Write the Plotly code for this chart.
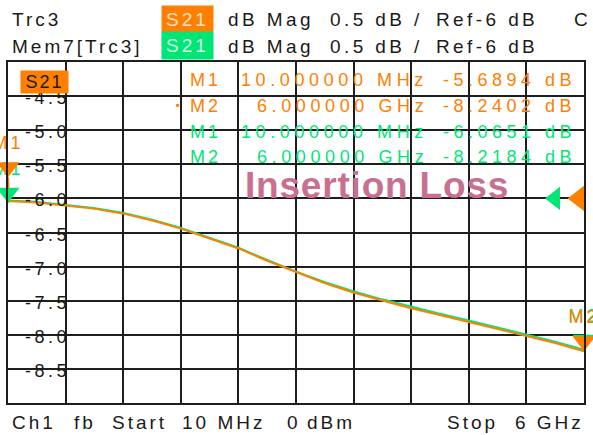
import plotly.graph_objects as go

# ---------------- data ----------------
freq_mhz = [10, 20, 300, 600, 900, 1200, 1500, 1800, 2100, 2400, 2700, 3000,
            3300, 3600, 3900, 4200, 4500, 4800, 5100, 5400, 5700, 6000]
trc3_db = [-5.6894, -6.04, -6.06, -6.10, -6.15, -6.22, -6.32, -6.44, -6.58, -6.73,
           -6.91, -7.08, -7.24, -7.38, -7.50, -7.61, -7.71, -7.81, -7.91, -8.01,
           -8.12, -8.2402]
mem7_db = [-6.0651, -6.03, -6.05, -6.09, -6.14, -6.21, -6.31, -6.43, -6.57, -6.72,
           -6.90, -7.07, -7.225, -7.36, -7.48, -7.59, -7.69, -7.79, -7.89, -7.99,
           -8.10, -8.2184]

marker_names = ["M1", "M2"]
marker_freq = [10, 6000]
trc3_marker_db = [-5.6894, -8.2402]
mem7_marker_db = [-6.0651, -8.2184]
marker_freq_text = ["10.000000 MHz", "6.000000 GHz"]
trc3_marker_text = ["-5.6894 dB", "-8.2402 dB"]
mem7_marker_text = ["-6.0651 dB", "-8.2184 dB"]

ref_level_db = -6.0
ytick_vals = [-4.5, -5.0, -5.5, -6.0, -6.5, -7.0, -7.5, -8.0, -8.5]
ytick_text = ["-4.5", "-5.0", "-5.5", "-6.0", "-6.5", "-7.0", "-7.5", "-8.0", "-8.5"]

trace_names = ["Trc3", "Mem7[Trc3]"]
param = "S21"
fmt_text = "dB Mag"
scale_text = "0.5 dB /"
ref_text = "Ref-6 dB"
footer_words = ["Ch1", "fb", "Start", "10 MHz", "0", "dBm", "Stop", "6 GHz"]
title_text = "Insertion Loss"

# ---------------- styling ----------------
ORANGE = "#FF8000"
GREEN = "#00E676"
PINK = "#C96F8F"
INK = "#1a1a1a"
FONT = "Liberation Sans, Arial, sans-serif"

W, H = 593, 435
ML, MR, MT, MB = 8, 9, 62, 32
PW, PH = W - ML - MR, H - MT - MB


def px(x):
    return (x - ML) / PW


def py(y):
    return 1 - (y - MT) / PH


def sp(t, ls):
    return f'<span style="letter-spacing:{ls}px">{t}</span>'


fig = go.Figure()

# traces: memory (green) under active trace (orange)
fig.add_trace(go.Scatter(x=freq_mhz, y=mem7_db, mode="lines",
                         line=dict(color=GREEN, width=2), hoverinfo="skip"))
fig.add_trace(go.Scatter(x=freq_mhz, y=trc3_db, mode="lines",
                         line=dict(color=ORANGE, width=2), hoverinfo="skip"))

# marker labels + markers (green first so orange covers it)
fig.add_trace(go.Scatter(x=marker_freq, y=mem7_marker_db, mode="text",
                         text=[sp(n, 3) + "<br> " for n in marker_names],
                         textposition="top center", cliponaxis=False,
                         textfont=dict(family=FONT, size=18, color=GREEN),
                         hoverinfo="skip"))
fig.add_trace(go.Scatter(x=marker_freq, y=mem7_marker_db, mode="markers",
                         marker=dict(symbol="triangle-up", angle=180, standoff=10,
                                     size=20, color=GREEN),
                         cliponaxis=False, hoverinfo="skip"))
fig.add_trace(go.Scatter(x=marker_freq, y=trc3_marker_db, mode="text",
                         text=[sp(n, 3) + "<br> " for n in marker_names],
                         textposition="top center", cliponaxis=False,
                         textfont=dict(family=FONT, size=18, color=ORANGE),
                         hoverinfo="skip"))
fig.add_trace(go.Scatter(x=marker_freq, y=trc3_marker_db, mode="markers",
                         marker=dict(symbol="triangle-up", angle=180, standoff=10,
                                     size=20, color=ORANGE),
                         cliponaxis=False, hoverinfo="skip"))

# reference level arrows at right edge
fig.add_trace(go.Scatter(x=[freq_mhz[-1]], y=[ref_level_db], mode="markers",
                         marker=dict(symbol="triangle-down", angle=90, standoff=29,
                                     size=20, color=GREEN),
                         cliponaxis=False, hoverinfo="skip"))
fig.add_trace(go.Scatter(x=[freq_mhz[-1]], y=[ref_level_db], mode="markers",
                         marker=dict(symbol="triangle-down", angle=90, standoff=5.5,
                                     size=22, color=ORANGE),
                         cliponaxis=False, hoverinfo="skip"))

shapes = []
annotations = []

# white boxes behind y tick labels (between grid and traces)
for v in ytick_vals:
    shapes.append(dict(type="rect", xref="paper", yref="y", layer="between",
                       x0=px(22), x1=px(72), y0=v - 0.2, y1=v + 0.165,
                       fillcolor="white", line=dict(width=0)))
for v, t in zip(ytick_vals, ytick_text):
    annotations.append(dict(xref="paper", yref="y", x=px(72), y=v, yshift=-2,
                            xanchor="right", yanchor="middle", showarrow=False,
                            text=sp(t, 3.5),
                            font=dict(family=FONT, size=18, color=INK)))

# S21 label inside the grid
annotations.append(dict(xref="paper", yref="paper", x=px(20), y=py(70),
                        xanchor="left", yanchor="top", showarrow=False,
                        width=47, height=22, borderpad=0, bgcolor=ORANGE,
                        text=sp(param, 2), align="center",
                        font=dict(family=FONT, size=18, color=INK)))

# header
for row, (name, yc, box_top, box_h, col, tcol) in enumerate([
        (trace_names[0], 19, 5, 26, ORANGE, "#FFE2C4"),
        (trace_names[1], 46, 31, 27, GREEN, "#D2FFE6")]):
    annotations.append(dict(xref="paper", yref="paper", x=px(10), y=py(yc),
                            xanchor="left", yanchor="middle", showarrow=False,
                            text=sp(name, 3),
                            font=dict(family=FONT, size=19, color=INK)))
    annotations.append(dict(xref="paper", yref="paper", x=px(161), y=py(box_top),
                            xanchor="left", yanchor="top", showarrow=False,
                            width=51, height=box_h, borderpad=0, bgcolor=col,
                            text=sp(param, 3), align="center",
                            font=dict(family=FONT, size=19, color=tcol)))
    for t, xl in [(fmt_text, 226), (scale_text, 328), (ref_text, 434)]:
        annotations.append(dict(xref="paper", yref="paper", x=px(xl), y=py(yc),
                                xanchor="left", yanchor="middle", showarrow=False,
                                text=sp(t, 3.4),
                                font=dict(family=FONT, size=19, color=INK)))
annotations.append(dict(xref="paper", yref="paper", x=px(572), y=py(19),
                        xanchor="left", yanchor="middle", showarrow=False,
                        text="C", font=dict(family=FONT, size=19, color=INK)))

# footer
for t, xl in zip(footer_words, [10, 72, 110, 180, 285, 305, 445, 513]):
    annotations.append(dict(xref="paper", yref="paper", x=px(xl), y=py(422.5),
                            xanchor="left", yanchor="middle", showarrow=False,
                            text=sp(t, 3),
                            font=dict(family=FONT, size=19, color=INK)))

# marker table
rows_y = [80, 106, 131.5, 157]
table = []
for i in range(2):
    table.append((marker_names[i], marker_freq_text[i], trc3_marker_text[i], ORANGE))
for i in range(2):
    table.append((marker_names[i], marker_freq_text[i], mem7_marker_text[i], GREEN))
for (mn, ft, vt, col), yc in zip(table, rows_y):
    annotations.append(dict(xref="paper", yref="paper", x=px(188), y=py(yc),
                            xanchor="left", yanchor="middle", showarrow=False,
                            text=sp(mn, 3), font=dict(family=FONT, size=18, color=col)))
    annotations.append(dict(xref="paper", yref="paper", x=px(430), y=py(yc),
                            xanchor="right", yanchor="middle", showarrow=False,
                            text=sp(ft, 4.6), font=dict(family=FONT, size=18, color=col)))
    annotations.append(dict(xref="paper", yref="paper", x=px(578), y=py(yc),
                            xanchor="right", yanchor="middle", showarrow=False,
                            text=sp(vt, 4.5), font=dict(family=FONT, size=18, color=col)))
# active marker indicator
annotations.append(dict(xref="paper", yref="paper", x=px(178), y=py(105),
                        xanchor="center", yanchor="middle", showarrow=False,
                        text="■", font=dict(family=FONT, size=6, color=ORANGE)))

# title in grid
annotations.append(dict(xref="paper", yref="paper", x=px(376.5), y=py(185),
                        xanchor="center", yanchor="middle", showarrow=False,
                        text=f"<b>{sp(title_text, 0.8)}</b>",
                        font=dict(family=FONT, size=37, color=PINK)))

fig.update_layout(
    width=W, height=H,
    margin=dict(l=ML, r=MR, t=MT, b=MB, pad=0),
    paper_bgcolor="white", plot_bgcolor="white",
    showlegend=False,
    shapes=shapes, annotations=annotations,
    xaxis=dict(range=[freq_mhz[0], freq_mhz[-1]], tick0=freq_mhz[0],
               dtick=(freq_mhz[-1] - freq_mhz[0]) / 10,
               showgrid=True, gridcolor="#1e1e1e", gridwidth=1.5,
               showticklabels=False, ticks="", zeroline=False,
               showline=True, mirror=True, linecolor="#1e1e1e", linewidth=2),
    yaxis=dict(range=[-9, -4], tick0=-9, dtick=0.5,
               showgrid=True, gridcolor="#1e1e1e", gridwidth=1.5,
               showticklabels=False, ticks="", zeroline=False,
               showline=True, mirror=True, linecolor="#1e1e1e", linewidth=2),
)

fig.write_html("out.html", config={"displayModeBar": False},
               post_script="document.body.style.margin='0';")
